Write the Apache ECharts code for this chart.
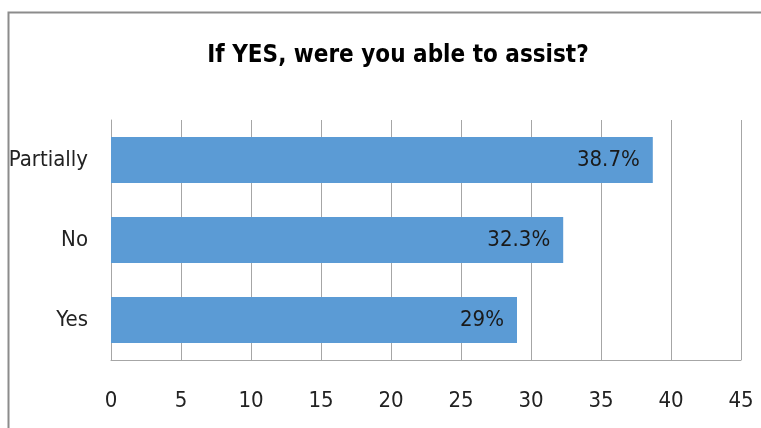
<!DOCTYPE html>
<html>
<head>
<meta charset="utf-8">
<script src="https://cdn.jsdelivr.net/npm/echarts@6/dist/echarts.min.js"></script>
<style>
  html, body { margin: 0; padding: 0; background: #fff; }
  #chart { width: 761px; height: 428px; }
</style>
</head>
<body>
<div id="chart"></div>
<script>
  // answers, bottom to top as drawn on the category axis
  var categories = ['Yes', 'No', 'Partially'];
  var percents = [29, 32.3, 38.7];
  var xTicks = { min: 0, max: 45, step: 5 };

  var font = '"DejaVu Sans Condensed", "Liberation Sans Narrow", "Liberation Sans", sans-serif';
  var myChart = echarts.init(document.getElementById('chart'));

  var option = {
    backgroundColor: '#fff',
    animation: false,
    title: {
      text: 'If YES, were you able to assist?',
      left: 393,
      top: 39,
      textAlign: 'center',
      textStyle: {
        fontFamily: font,
        fontSize: 24,
        fontWeight: 'bold',
        color: '#000'
      }
    },
    // outer frame of the original chart box
    graphic: [{
      type: 'polyline',
      shape: { points: [[8.5, 428], [8.5, 12.5], [761, 12.5]] },
      style: { stroke: '#8c8c8c', lineWidth: 2, fill: null }
    }],
    grid: {
      left: 111,
      right: 20,
      top: 120,
      bottom: 68
    },
    xAxis: {
      type: 'value',
      min: xTicks.min,
      max: xTicks.max,
      interval: xTicks.step,
      axisLine: { show: true, lineStyle: { color: '#a6a6a6', width: 1 } },
      axisTick: { show: false },
      splitLine: { show: true, lineStyle: { color: '#a6a6a6', width: 1 } },
      axisLabel: {
        margin: 30,
        fontFamily: font,
        fontSize: 22,
        color: '#222'
      }
    },
    yAxis: {
      type: 'category',
      data: categories,
      axisLine: { show: true, lineStyle: { color: '#a6a6a6', width: 1 } },
      axisTick: { show: false },
      axisLabel: {
        margin: 23,
        fontFamily: font,
        fontSize: 22,
        color: '#222'
      }
    },
    series: [{
      type: 'bar',
      data: percents,
      barWidth: '57.5%',
      itemStyle: { color: '#5b9bd5' },
      label: {
        show: true,
        position: 'insideRight',
        distance: 13,
        formatter: function (p) { return p.value + '%'; },
        fontFamily: font,
        fontSize: 22,
        color: '#1a1a1a'
      }
    }]
  };

  myChart.setOption(option);
</script>
</body>
</html>
